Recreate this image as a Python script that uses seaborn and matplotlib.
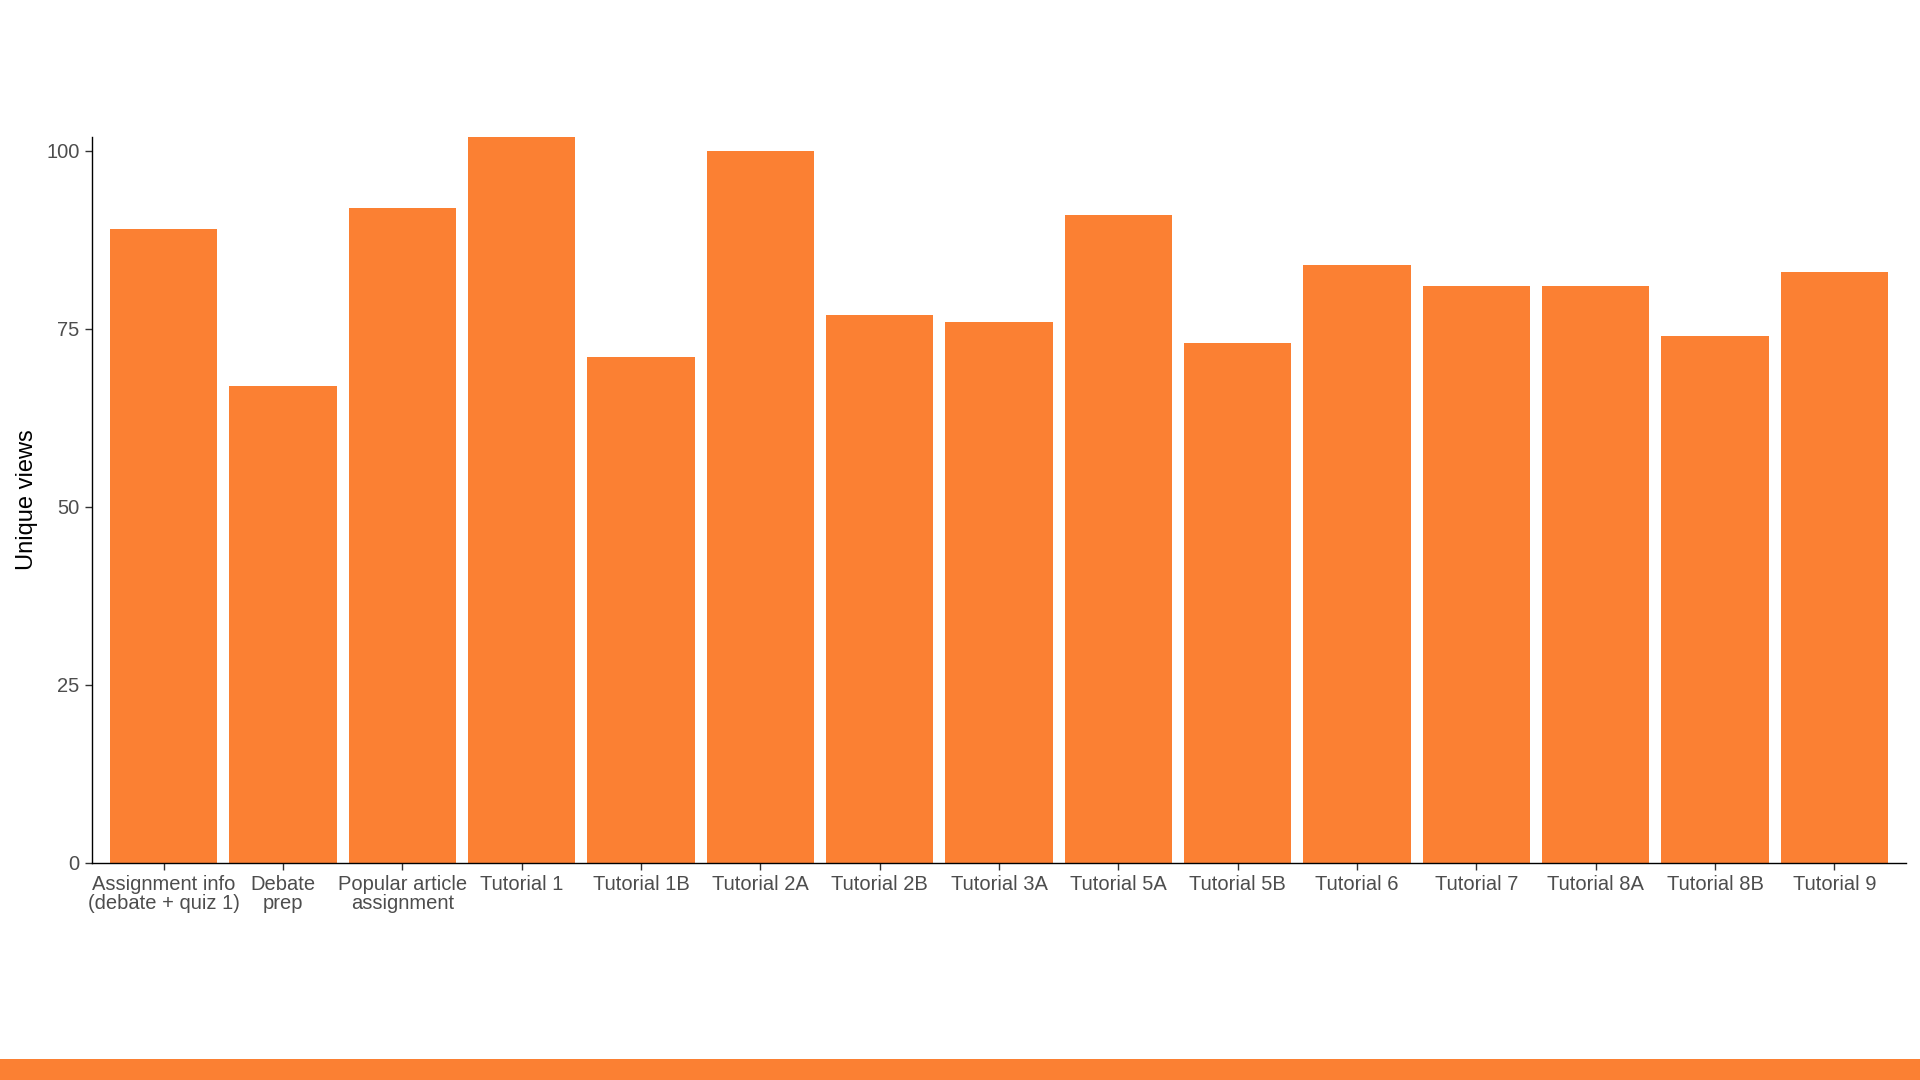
import pandas as pd
import matplotlib.pyplot as plt
import seaborn as sns
from matplotlib.patches import Rectangle

ORANGE = "#FB8033"

paginas = [
    "Assignment info\n(debate + quiz 1)",
    "Debate\nprep",
    "Popular article\nassignment",
    "Tutorial 1",
    "Tutorial 1B",
    "Tutorial 2A",
    "Tutorial 2B",
    "Tutorial 3A",
    "Tutorial 5A",
    "Tutorial 5B",
    "Tutorial 6",
    "Tutorial 7",
    "Tutorial 8A",
    "Tutorial 8B",
    "Tutorial 9",
]
visualizacoes = [89, 67, 92, 102, 71, 100, 77, 76, 91, 73, 84, 81, 81, 74, 83]
ticks_y = [0, 25, 50, 75, 100]

df = pd.DataFrame({"pagina": paginas, "views": visualizacoes})

sns.set_style("white", {"xtick.bottom": True, "ytick.left": True})
plt.rcParams["font.family"] = ["Liberation Sans", "DejaVu Sans"]

fig = plt.figure(figsize=(19.2, 10.8), dpi=100)
ax = fig.add_axes([0.0479, 0.2012, 0.9448, 0.6722])

sns.barplot(data=df, x="pagina", y="views", color=ORANGE, saturation=1,
            width=0.9, linewidth=0, ax=ax)

ax.set_xlim(-0.6, len(paginas) - 0.4)
ax.set_ylim(0, 102)
ax.set_yticks(ticks_y)
ax.set_xlabel("")
ax.set_ylabel("Unique views", fontsize=17, color="black", labelpad=6)

ax.tick_params(axis="both", labelsize=14.5, labelcolor="#4D4D4D",
               color="#333333", length=5, width=1, pad=4,
               bottom=True, left=True)
for lbl in ax.get_xticklabels():
    lbl.set_linespacing(1.0)

for lado in ["top", "right"]:
    ax.spines[lado].set_visible(False)
for lado in ["left", "bottom"]:
    ax.spines[lado].set_color("black")
    ax.spines[lado].set_linewidth(1)

# faixa laranja no rodapé
fig.patches.append(Rectangle((0, 0), 1, 21 / 1080, transform=fig.transFigure,
                             facecolor=ORANGE, edgecolor="none"))

fig.savefig("out.png", dpi=100)
plt.close(fig)
